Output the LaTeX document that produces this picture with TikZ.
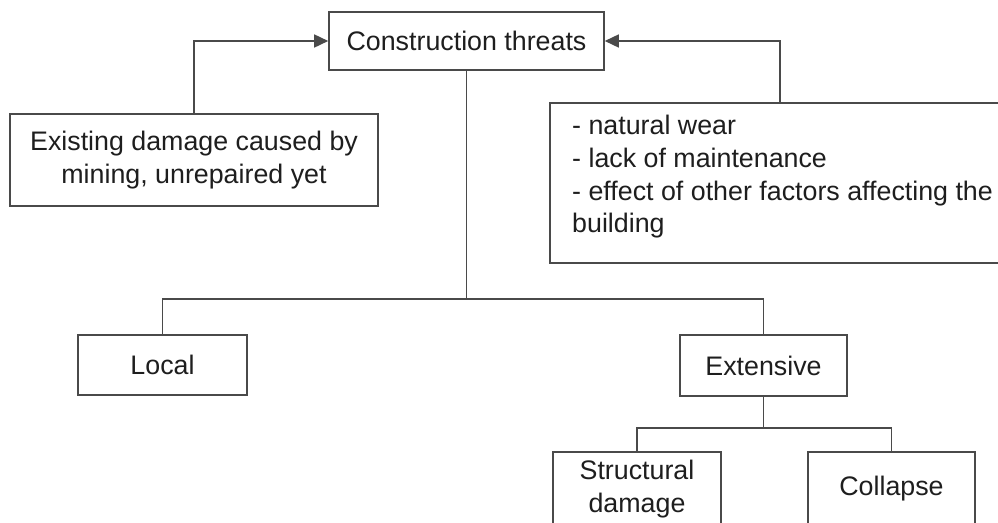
\documentclass[tikz,border=0pt]{standalone}
\usepackage{fontspec}
\setmainfont{Liberation Sans}
\usetikzlibrary{arrows.meta}
\definecolor{linegray}{HTML}{4A4A4A}
\definecolor{textgray}{HTML}{1E1E1E}
\begin{document}
\begin{tikzpicture}[x=1pt,y=-1pt,
  box/.style={draw=linegray, line width=1.6pt, fill=white, inner sep=0pt,
    align=center, text=textgray, font=\fontsize{26.8}{33}\selectfont},
  conn/.style={draw=linegray, line width=1.6pt},
  arr/.style={conn, -{Triangle[length=14pt,width=13pt]}}]
\useasboundingbox (0,0) rectangle (998,522);
\clip (0,0) rectangle (998,522);

% boxes
\node[box, minimum width=275, minimum height=58] (ct) at (466.5,41) {Construction threats};
\node[box, minimum width=368, minimum height=92] (lbox) at (194,160)
  {Existing damage caused by\\mining, unrepaired yet};
\node[box, minimum width=460, minimum height=160] (rbox) at (780,183) {};
\node[anchor=north west, inner sep=0pt, align=left, text=textgray,
  font=\fontsize{26.8}{32.7}\selectfont] (rtext) at (572,115)
  {- natural wear\\- lack of maintenance\\- effect of other factors affecting the\\building};
\node[box, minimum width=169, minimum height=60] (local) at (162.5,365) {Local};
\node[box, minimum width=167, minimum height=61] (ext) at (763.5,365.5) {Extensive};
\node[box, minimum width=168, minimum height=74] (sd) at (637,489) {Structural\\damage};
\node[box, minimum width=167, minimum height=74] (col) at (891.5,489) {Collapse};

% causes feeding the threats
\draw[arr] (lbox.north) |- (ct.west);
\draw[arr] (rbox.north) |- (ct.east);

% classification tree
\coordinate (bus) at (ct.south |- 0,299);
\draw[conn] (ct.south) -- (bus);
\draw[conn] (local.north) |- (bus) -| (ext.north);
\coordinate (bus2) at (ext.south |- 0,428);
\draw[conn] (ext.south) -- (bus2);
\draw[conn] (sd.north) |- (bus2) -| (col.north);
\end{tikzpicture}
\end{document}
